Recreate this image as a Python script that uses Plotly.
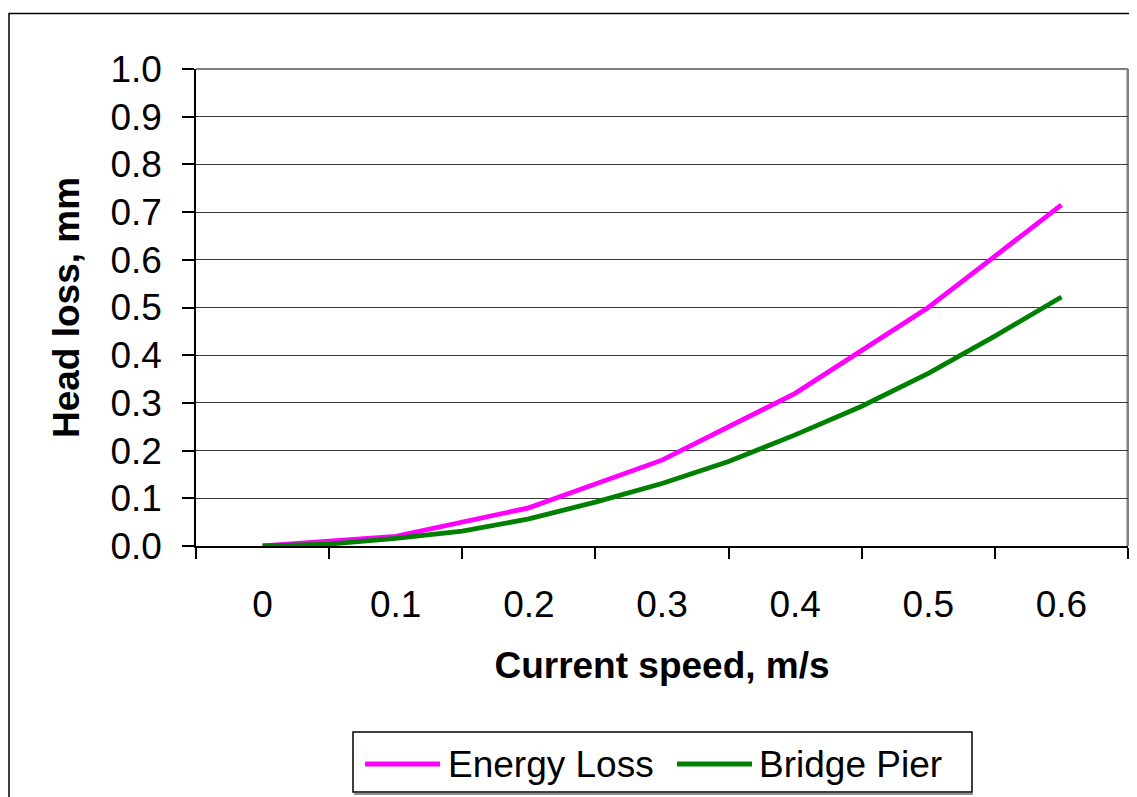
import plotly.graph_objects as go

# Data
energy_speed = [0.0, 0.1, 0.2, 0.3, 0.4, 0.5, 0.6]
energy_loss = [0.0, 0.02, 0.08, 0.18, 0.32, 0.50, 0.715]

pier_speed = [0.0, 0.05, 0.1, 0.15, 0.2, 0.25, 0.3, 0.35, 0.4, 0.45, 0.5, 0.55, 0.6]
pier_loss = [0.0, 0.004, 0.016, 0.031, 0.057, 0.092, 0.131, 0.177, 0.233, 0.293, 0.362, 0.44, 0.522]

series_names = ["Energy Loss", "Bridge Pier"]
series_colors = ["#FF00FF", "#008000"]

x_tick_vals = [0.0, 0.1, 0.2, 0.3, 0.4, 0.5, 0.6]
x_tick_text = ["0", "0.1", "0.2", "0.3", "0.4", "0.5", "0.6"]
y_tick_vals = [0.0, 0.1, 0.2, 0.3, 0.4, 0.5, 0.6, 0.7, 0.8, 0.9, 1.0]

FONT = "Liberation Sans, Arial, sans-serif"
FS = 37
LW = 4.8

fig = go.Figure()
fig.add_trace(go.Scatter(x=energy_speed, y=energy_loss, mode="lines", name=series_names[0],
                         line=dict(color=series_colors[0], width=LW)))
fig.add_trace(go.Scatter(x=pier_speed, y=pier_loss, mode="lines", name=series_names[1],
                         line=dict(color=series_colors[1], width=LW)))

# page has an 8px body margin, so the figure is drawn 8px in from the window corner
OFF = 8
W, H = 1137 - OFF, 797 - OFF
L, R, T, B = 196 - OFF, 9, 69 - OFF, 251
pw, ph = W - L - R, H - T - B

def sx(px):  # screen pixel -> paper x
    return (px - OFF - L) / pw

def sy(py):  # screen pixel -> paper y
    return (H - B - (py - OFF)) / ph

fig.update_layout(
    width=W, height=H,
    margin=dict(l=L, r=R, t=T, b=B, autoexpand=False),
    paper_bgcolor="white", plot_bgcolor="white",
    font=dict(family=FONT, color="black", size=FS),
    showlegend=False,
    xaxis=dict(range=[-0.05, 0.65], tickmode="array", tickvals=x_tick_vals, ticktext=x_tick_text,
               ticks="", showgrid=False, zeroline=False,
               showline=True, linecolor="black", linewidth=1.5,
               ticklabelstandoff=25,
               minor=dict(ticks="outside", ticklen=11, tickcolor="black", tickwidth=1.5,
                          tick0=-0.05, dtick=0.1, showgrid=False),
               title=dict(text="<b>Current speed, m/s</b>", font=dict(size=FS), standoff=28),
               tickfont=dict(size=FS)),
    yaxis=dict(range=[0, 1.0], tickmode="array", tickvals=y_tick_vals, tickformat=".1f",
               ticks="outside", ticklen=12, tickcolor="black", tickwidth=1.5,
               showgrid=True, gridcolor="#3a3a3a", gridwidth=1.2, zeroline=False,
               showline=True, linecolor="black", linewidth=1.5,
               ticklabelstandoff=13,
               title=dict(text="<b>Head loss, mm</b>", font=dict(size=FS), standoff=19),
               tickfont=dict(size=FS)),
)

# plot-area border (gray top/right) and outer chart border
fig.add_shape(type="line", xref="paper", yref="paper", x0=0, x1=1, y0=1, y1=1,
              line=dict(color="#808080", width=2), layer="below")
fig.add_shape(type="line", xref="paper", yref="paper", x0=1, x1=1, y0=0, y1=1,
              line=dict(color="#808080", width=3), layer="below")
fig.add_shape(type="rect", xref="paper", yref="paper",
              x0=sx(9), x1=sx(1160), y0=sy(820), y1=sy(13.5),
              line=dict(color="black", width=1.5), fillcolor="rgba(0,0,0,0)")

# legend box (Excel style: long line samples)
fig.add_shape(type="rect", xref="paper", yref="paper",
              x0=sx(353), x1=sx(972), y0=sy(792), y1=sy(732),
              line=dict(color="black", width=1.5), fillcolor="white")
fig.add_shape(type="line", xref="paper", yref="paper",
              x0=sx(354), x1=sx(973), y0=sy(794), y1=sy(794),
              line=dict(color="#909090", width=2))
legend_items = [(365, 440, 446), (677, 752, 757)]
for (lx0, lx1, tx), name, color in zip(legend_items, series_names, series_colors):
    fig.add_shape(type="line", xref="paper", yref="paper",
                  x0=sx(lx0), x1=sx(lx1), y0=sy(764), y1=sy(764),
                  line=dict(color=color, width=LW))
    fig.add_annotation(xref="paper", yref="paper", x=sx(tx), y=sy(764),
                       xanchor="left", yanchor="middle", showarrow=False,
                       text=name, font=dict(size=FS, family=FONT, color="black"))

fig.write_html("out.html")
